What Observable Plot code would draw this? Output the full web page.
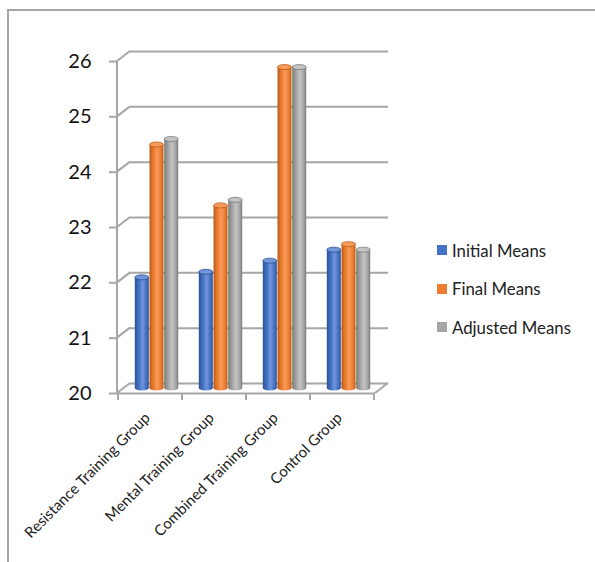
<!DOCTYPE html>
<html>
<head>
<meta charset="utf-8">
<script src="https://cdn.jsdelivr.net/npm/d3@7"></script>
<script src="https://cdn.jsdelivr.net/npm/@observablehq/plot@0.6"></script>
<style>
  html, body { margin: 0; padding: 0; background: #fff; }
  #wrap { position: relative; width: 595px; height: 562px; overflow: hidden; font-family: Lato, "Open Sans", sans-serif; }
  #border { position: absolute; left: 7px; top: 9px; right: -5px; bottom: -5px; border-left: 2px solid #a6a6a6; border-top: 2px solid #a6a6a6; }
  #legend { position: absolute; left: 437px; top: 240px; font-size: 16.8px; color: #222; }
  #legend .item { display: flex; align-items: center; height: 20px; margin-bottom: 18.5px; }
  #legend .sw { width: 10px; height: 10px; margin-right: 5px; }
</style>
</head>
<body>
<div id="wrap"><div id="border"></div><div id="chart"></div><div id="legend"></div></div>
<script>
const categories = ["Resistance Training Group", "Mental Training Group", "Combined Training Group", "Control Group"];
const seriesNames = ["Initial Means", "Final Means", "Adjusted Means"];
const initialMeans = [22.0, 22.1, 22.3, 22.5];
const finalMeans = [24.4, 23.3, 25.8, 22.6];
const adjustedMeans = [24.5, 23.4, 25.8, 22.5];
const yTicks = [20, 21, 22, 23, 24, 25, 26];

const seriesValues = [initialMeans, finalMeans, adjustedMeans];
const baseColors = ["#4472C4", "#ED7D31", "#A5A5A5"];
const edgeColors = ["#2c5293", "#b95a17", "#7a7a7a"];
const lightColors = ["#6f95dc", "#f79a5a", "#c4c4c4"];
const GRID = "#a6a6a6";
const DX = 13, DY = -10;          // depth offset of back wall
const MX = 6.5, MY = -5;          // mid-depth where bars stand
const BAR_W = 14.5, BAR_STEP = 14.7;

const rows = [];
seriesValues.forEach((vals, k) => vals.forEach((v, i) => rows.push({category: categories[i], series: seriesNames[k], k, value: v})));

function defs() {
  const d = d3.create("svg:defs");
  baseColors.forEach((c, k) => {
    const g = d.append("linearGradient").attr("id", "cyl" + k).attr("x1", "0").attr("x2", "1").attr("y1", "0").attr("y2", "0");
    g.append("stop").attr("offset", "0%").attr("stop-color", edgeColors[k]);
    g.append("stop").attr("offset", "30%").attr("stop-color", baseColors[k]);
    g.append("stop").attr("offset", "55%").attr("stop-color", lightColors[k]);
    g.append("stop").attr("offset", "82%").attr("stop-color", baseColors[k]);
    g.append("stop").attr("offset", "100%").attr("stop-color", edgeColors[k]);
  });
  return d.node();
}

function frame3d(index, scales, values, dims) {
  const y = scales.y, x = scales.x;
  const x0 = dims.marginLeft, x1 = dims.width - dims.marginRight;
  const g = d3.create("svg:g").attr("stroke", GRID).attr("stroke-width", 2).attr("fill", "none");
  for (const t of yTicks) {
    g.append("line").attr("x1", x0).attr("y1", y(t)).attr("x2", x0 + DX).attr("y2", y(t) + DY);
  }
  const yb = y(yTicks[0]);
  g.append("line").attr("x1", x1).attr("y1", yb).attr("x2", x1 + DX).attr("y2", yb + DY);
  const edges = categories.map(c => x(c)).concat([x(categories[categories.length - 1]) + x.bandwidth()]);
  for (const e of edges) g.append("line").attr("x1", e).attr("y1", yb).attr("x2", e).attr("y2", yb + 7);
  g.append("line").attr("x1", x0).attr("x2", x0).attr("y1", y(yTicks[yTicks.length - 1])).attr("y2", yb);
  return g.node();
}

function barLayout(k, bw) {
  const left = bw / 2 + (k - 1) * BAR_STEP - BAR_W / 2;
  return {insetLeft: left, insetRight: bw - left - BAR_W};
}

const bw = (595 - 117 - 220) / categories.length;
const barMarks = [];
seriesNames.forEach((s, k) => {
  const data = rows.filter(r => r.k === k);
  const ins = barLayout(k, bw);
  barMarks.push(Plot.barY(data, {x: "category", y1: yTicks[0], y2: yTicks[0], ...ins, insetTop: -2.5, insetBottom: -2.5, rx: BAR_W / 2, ry: 2.5, fill: "url(#cyl" + k + ")", dx: MX, dy: MY}));
  barMarks.push(Plot.barY(data, {x: "category", y1: yTicks[0], y2: "value", ...ins, fill: "url(#cyl" + k + ")", dx: MX, dy: MY}));
  barMarks.push(Plot.barY(data, {x: "category", y1: "value", y2: "value", ...ins, insetTop: -2.5, insetBottom: -2.5, rx: BAR_W / 2, ry: 2.5, fill: lightColors[k], stroke: edgeColors[k], strokeWidth: 0.8, dx: MX, dy: MY}));
});

const chart = Plot.plot({
  width: 595,
  height: 562,
  marginLeft: 117,
  marginRight: 220,
  marginTop: 61,
  marginBottom: 169,
  style: {fontFamily: "Lato, 'Open Sans', sans-serif", background: "transparent", overflow: "visible"},
  x: {type: "band", domain: categories, padding: 0},
  y: {domain: [20, 26]},
  marks: [
    defs,
    Plot.ruleY(yTicks, {stroke: GRID, strokeWidth: 2, dx: DX, dy: DY}),
    frame3d,
    Plot.ruleY([yTicks[0]], {stroke: GRID, strokeWidth: 2}),
    Plot.axisY({ticks: yTicks, tickFormat: d => String(d), tickSize: 8, tickPadding: 18, fontSize: 20, stroke: GRID, strokeWidth: 2, fill: "#111", label: null}),
    Plot.axisX({tickSize: 0, tickRotate: -45, tickPadding: 22, fontSize: 15, fill: "#222", label: null, dx: -3}),
    ...barMarks
  ]
});
document.getElementById("chart").appendChild(chart);

const legend = document.getElementById("legend");
seriesNames.forEach((s, k) => {
  const item = document.createElement("div");
  item.className = "item";
  const sw = document.createElement("span");
  sw.className = "sw";
  sw.style.background = baseColors[k];
  const t = document.createElement("span");
  t.textContent = s;
  item.appendChild(sw); item.appendChild(t);
  legend.appendChild(item);
});
</script>
</body>
</html>
